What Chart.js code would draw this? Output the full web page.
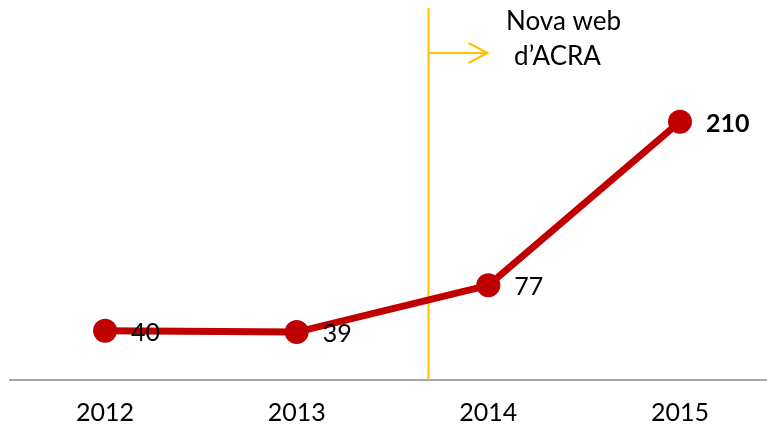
<!DOCTYPE html>
<html>
<head>
<meta charset="utf-8">
<script src="https://cdn.jsdelivr.net/npm/chart.js@4"></script>
<style>
  html, body { margin: 0; padding: 0; background: #fff; overflow: hidden; }
  #wrap { width: 767px; height: 431px; }
</style>
</head>
<body>
<div id="wrap"><canvas id="chart"></canvas></div>
<script>
const years = ['2012', '2013', '2014', '2015'];
const visits = [40, 39, 77, 210];
const boldLabels = [false, false, false, true];
const noteLines = ['Nova web', 'd\u2019ACRA'];
const noteAt = 1.685; // between 2013 and 2014

const FONT = 'Lato, "DejaVu Sans", sans-serif';
const RED = '#C00000';
const GOLD = '#FFC000';

// value labels to the right of each point
const pointLabels = {
    id: 'pointLabels',
    afterDatasetsDraw(chart) {
        const ctx = chart.ctx;
        const meta = chart.getDatasetMeta(0);
        ctx.save();
        ctx.fillStyle = '#000';
        ctx.textBaseline = 'middle';
        ctx.textAlign = 'left';
        meta.data.forEach((pt, i) => {
            ctx.font = (boldLabels[i] ? 'bold ' : '') + '25px ' + FONT;
            ctx.fillText(String(visits[i]), pt.x + 26, pt.y + 2);
        });
        ctx.restore();
    }
};

// yellow marker line with arrow and note
const webNote = {
    id: 'webNote',
    beforeDatasetsDraw(chart) {
        const ctx = chart.ctx;
        const area = chart.chartArea;
        const x = Math.round(chart.scales.x.getPixelForValue(noteAt)) + 0.5;
        ctx.save();
        ctx.strokeStyle = GOLD;
        ctx.lineWidth = 2;
        ctx.beginPath();
        ctx.moveTo(x, area.top - 3);
        ctx.lineTo(x, area.bottom);
        ctx.stroke();
        const ay = 53;
        ctx.beginPath();
        ctx.moveTo(x, ay);
        ctx.lineTo(x + 59, ay);
        ctx.moveTo(x + 40, ay - 10);
        ctx.lineTo(x + 59, ay);
        ctx.lineTo(x + 40, ay + 10);
        ctx.stroke();
        ctx.fillStyle = '#000';
        ctx.font = '26px ' + FONT;
        ctx.textAlign = 'center';
        ctx.textBaseline = 'middle';
        ctx.fillText(noteLines[0], x + 135, 22);
        ctx.fillText(noteLines[1], x + 129, 57);
        ctx.restore();
    }
};

new Chart(document.getElementById('chart'), {
    type: 'line',
    data: {
        datasets: [{
            data: visits.map((v, i) => ({ x: i, y: v })),
            borderColor: RED,
            backgroundColor: RED,
            borderWidth: 7,
            pointRadius: 12,
            pointHoverRadius: 12,
            pointBackgroundColor: RED,
            pointBorderWidth: 0,
            tension: 0
        }]
    },
    options: {
        responsive: true,
        maintainAspectRatio: false,
        animation: false,
        events: [],
        layout: { autoPadding: false, padding: { top: 11, left: 10, right: 0, bottom: 0 } },
        plugins: { legend: { display: false }, tooltip: { enabled: false } },
        scales: {
            x: {
                type: 'linear',
                min: -0.496,
                max: 3.454,
                grid: { display: false, drawTicks: false },
                border: { display: true, color: '#A6A6A6', width: 2 },
                ticks: {
                    padding: 18,
                    autoSkip: false,
                    maxRotation: 0,
                    color: '#000',
                    font: { family: FONT, size: 25 },
                    callback: (v) => years[v]
                },
                afterBuildTicks(scale) {
                    scale.ticks = years.map((_, i) => ({ value: i }));
                },
                afterFit(scale) {
                    scale.height = 51;
                    scale.paddingLeft = 0;
                    scale.paddingRight = 0;
                }
            },
            y: {
                display: false,
                min: 0,
                max: 300
            }
        }
    },
    plugins: [pointLabels, webNote]
});
</script>
</body>
</html>
